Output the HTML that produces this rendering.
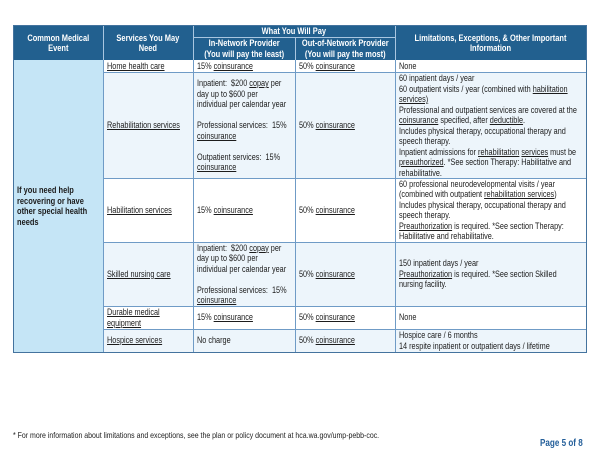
<!DOCTYPE html>
<html><head><meta charset="utf-8">
<style>
html,body{margin:0;padding:0;background:#fff;}
body{width:600px;height:463px;position:relative;overflow:hidden;font-family:"Liberation Sans",Arial,sans-serif;color:#1c1c1c;}
.bg{position:absolute;}
.ln{position:absolute;background:#6f9bc6;}
.hl{position:absolute;background:#a9c6e0;}
.c{position:absolute;display:flex;align-items:center;box-sizing:border-box;padding-left:4px;}
.t{white-space:nowrap;transform:scaleX(.81);transform-origin:left center;font-size:9px;line-height:10.5px;}
.h{justify-content:center;padding-left:0;}
.h .t{transform-origin:center center;text-align:center;font-weight:bold;color:#fff;transform:scaleX(.83);line-height:10.4px;}
.b .t{font-weight:bold;transform:scaleX(.83);}
u{text-decoration:underline;}
</style></head><body>

<!-- backgrounds -->
<div class="bg" style="left:14px;top:26px;width:572px;height:34px;background:#22608f;"></div>
<div class="bg" style="left:14px;top:60px;width:89px;height:292px;background:#c5e5f6;"></div>
<div class="bg" style="left:103px;top:60px;width:483px;height:13px;background:#fff;"></div>
<div class="bg" style="left:103px;top:73px;width:483px;height:105px;background:#edf5fb;"></div>
<div class="bg" style="left:103px;top:178px;width:483px;height:64px;background:#fff;"></div>
<div class="bg" style="left:103px;top:242px;width:483px;height:64px;background:#edf5fb;"></div>
<div class="bg" style="left:103px;top:306px;width:483px;height:23px;background:#fff;"></div>
<div class="bg" style="left:103px;top:329px;width:483px;height:23px;background:#edf5fb;"></div>

<!-- header inner lines -->
<div class="hl" style="left:103px;top:26px;width:1px;height:34px;"></div>
<div class="hl" style="left:193px;top:26px;width:1px;height:34px;"></div>
<div class="hl" style="left:395px;top:26px;width:1px;height:34px;"></div>
<div class="hl" style="left:295px;top:37px;width:1px;height:23px;"></div>
<div class="hl" style="left:193px;top:37px;width:202px;height:1px;"></div>

<!-- body lines -->
<div class="ln" style="left:103px;top:60px;width:1px;height:292px;"></div>
<div class="ln" style="left:193px;top:60px;width:1px;height:292px;"></div>
<div class="ln" style="left:295px;top:60px;width:1px;height:292px;"></div>
<div class="ln" style="left:395px;top:60px;width:1px;height:292px;"></div>
<div class="ln" style="left:103px;top:72px;width:483px;height:1px;"></div>
<div class="ln" style="left:103px;top:178px;width:483px;height:1px;"></div>
<div class="ln" style="left:103px;top:242px;width:483px;height:1px;"></div>
<div class="ln" style="left:103px;top:306px;width:483px;height:1px;"></div>
<div class="ln" style="left:103px;top:329px;width:483px;height:1px;"></div>

<!-- outer border -->
<div style="position:absolute;left:13px;top:25px;width:572px;height:326px;border:1px solid #44739e;"></div>

<!-- header text -->
<div class="c h" style="left:14px;top:26px;width:89px;height:34px;"><div class="t">Common Medical<br>Event</div></div>
<div class="c h" style="left:103px;top:26px;width:90px;height:34px;"><div class="t">Services You May<br>Need</div></div>
<div class="c h" style="left:193px;top:26px;width:202px;height:11px;"><div class="t">What You Will Pay</div></div>
<div class="c h" style="left:193px;top:37px;width:102px;height:23px;"><div class="t">In-Network Provider<br>(You will pay the least)</div></div>
<div class="c h" style="left:295px;top:37px;width:100px;height:23px;"><div class="t">Out-of-Network Provider<br>(You will pay the most)</div></div>
<div class="c h" style="left:395px;top:26px;width:191px;height:34px;"><div class="t">Limitations, Exceptions, &amp; Other Important<br>Information</div></div>

<!-- col1 -->
<div class="c b" style="left:14px;top:60px;width:89px;height:292px;padding-left:3px;"><div class="t">If you need help<br>recovering or have<br>other special health<br>needs</div></div>

<!-- row1 -->
<div class="c" style="left:103px;top:60px;width:90px;height:13px;"><div class="t"><u>Home health care</u></div></div>
<div class="c" style="left:193px;top:60px;width:102px;height:13px;"><div class="t">15% <u>coinsurance</u></div></div>
<div class="c" style="left:295px;top:60px;width:100px;height:13px;"><div class="t">50% <u>coinsurance</u></div></div>
<div class="c" style="left:395px;top:60px;width:191px;height:13px;"><div class="t">None</div></div>

<!-- row2 -->
<div class="c" style="left:103px;top:73px;width:90px;height:105px;"><div class="t"><u>Rehabilitation services</u></div></div>
<div class="c" style="left:193px;top:73px;width:102px;height:105px;"><div class="t">Inpatient:&nbsp; $200 <u>copay</u> per<br>day up to $600 per<br>individual per calendar year<br>&nbsp;<br>Professional services:&nbsp; 15%<br><u>coinsurance</u><br>&nbsp;<br>Outpatient services:&nbsp; 15%<br><u>coinsurance</u></div></div>
<div class="c" style="left:295px;top:73px;width:100px;height:105px;"><div class="t">50% <u>coinsurance</u></div></div>
<div class="c" style="left:395px;top:73px;width:191px;height:105px;"><div class="t">60 inpatient days / year<br>60 outpatient visits / year (combined with <u>habilitation</u><br><u>services)</u><br>Professional and outpatient services are covered at the<br><u>coinsurance</u> specified, after <u>deductible</u>.<br>Includes physical therapy, occupational therapy and<br>speech therapy.<br>Inpatient admissions for <u>rehabilitation</u> <u>services</u> must be<br><u>preauthorized</u>. *See section Therapy: Habilitative and<br>rehabilitative.</div></div>

<!-- row3 -->
<div class="c" style="left:103px;top:178px;width:90px;height:64px;"><div class="t"><u>Habilitation services</u></div></div>
<div class="c" style="left:193px;top:178px;width:102px;height:64px;"><div class="t">15% <u>coinsurance</u></div></div>
<div class="c" style="left:295px;top:178px;width:100px;height:64px;"><div class="t">50% <u>coinsurance</u></div></div>
<div class="c" style="left:395px;top:178px;width:191px;height:64px;"><div class="t">60 professional neurodevelopmental visits / year<br>(combined with outpatient <u>rehabilitation services</u>)<br>Includes physical therapy, occupational therapy and<br>speech therapy.<br><u>Preauthorization</u> is required. *See section Therapy:<br>Habilitative and rehabilitative.</div></div>

<!-- row4 -->
<div class="c" style="left:103px;top:242px;width:90px;height:64px;"><div class="t"><u>Skilled nursing care</u></div></div>
<div class="c" style="left:193px;top:242px;width:102px;height:64px;"><div class="t">Inpatient:&nbsp; $200 <u>copay</u> per<br>day up to $600 per<br>individual per calendar year<br>&nbsp;<br>Professional services:&nbsp; 15%<br><u>coinsurance</u></div></div>
<div class="c" style="left:295px;top:242px;width:100px;height:64px;"><div class="t">50% <u>coinsurance</u></div></div>
<div class="c" style="left:395px;top:242px;width:191px;height:64px;"><div class="t">150 inpatient days / year<br><u>Preauthorization</u> is required. *See section Skilled<br>nursing facility.</div></div>

<!-- row5 -->
<div class="c" style="left:103px;top:306px;width:90px;height:23px;"><div class="t"><u>Durable medical<br>equipment</u></div></div>
<div class="c" style="left:193px;top:306px;width:102px;height:23px;"><div class="t">15% <u>coinsurance</u></div></div>
<div class="c" style="left:295px;top:306px;width:100px;height:23px;"><div class="t">50% <u>coinsurance</u></div></div>
<div class="c" style="left:395px;top:306px;width:191px;height:23px;"><div class="t">None</div></div>

<!-- row6 -->
<div class="c" style="left:103px;top:329px;width:90px;height:23px;"><div class="t"><u>Hospice services</u></div></div>
<div class="c" style="left:193px;top:329px;width:102px;height:23px;"><div class="t">No charge</div></div>
<div class="c" style="left:295px;top:329px;width:100px;height:23px;"><div class="t">50% <u>coinsurance</u></div></div>
<div class="c" style="left:395px;top:329px;width:191px;height:23px;"><div class="t">Hospice care / 6 months<br>14 respite inpatient or outpatient days / lifetime</div></div>

<!-- footer -->
<div class="c" style="left:13px;top:429px;width:400px;height:12px;padding-left:0;"><div class="t" style="font-size:8.5px;line-height:10px;transform:scaleX(.82);">* For more information about limitations and exceptions, see the plan or policy document at hca.wa.gov/ump-pebb-coc.</div></div>
<div class="c" style="left:540px;top:437px;width:60px;height:12px;padding-left:0;"><div class="t" style="font-size:9.9px;line-height:11px;font-weight:bold;color:#245f9a;transform:scaleX(.82);">Page 5 of 8</div></div>

</body></html>
